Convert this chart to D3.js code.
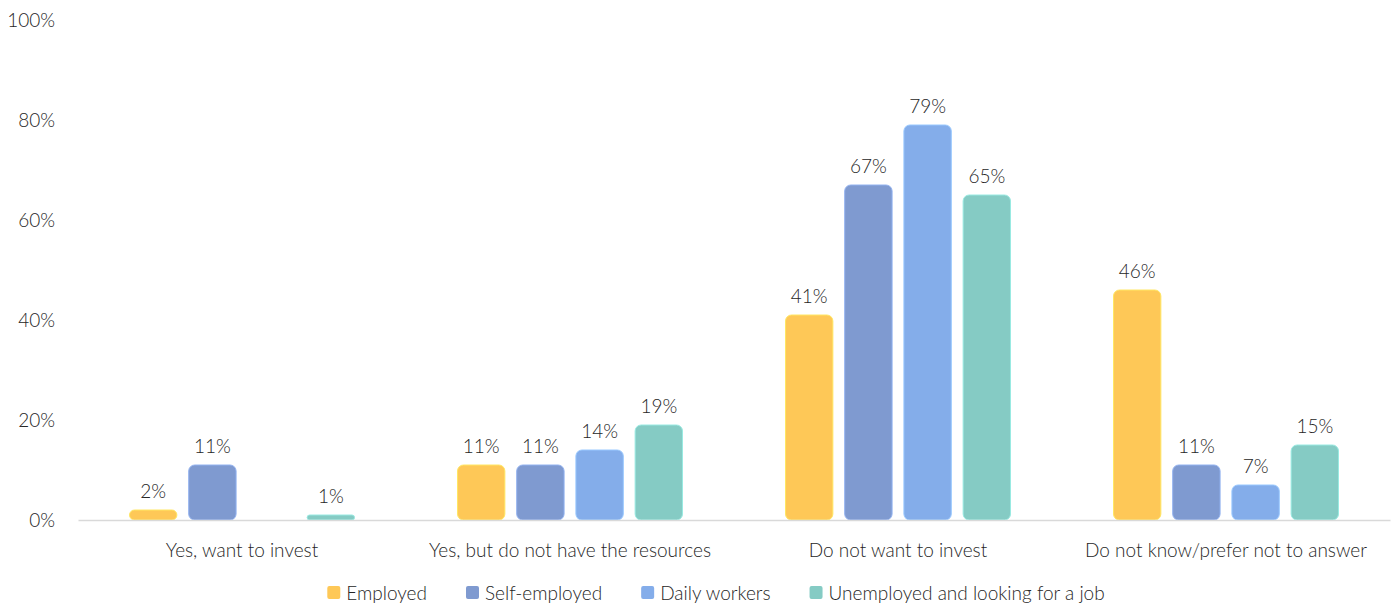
<!DOCTYPE html>
<html>
<head>
<meta charset="utf-8">
<script src="https://cdn.jsdelivr.net/npm/d3@7"></script>
<style>
  html, body { margin: 0; padding: 0; background: #fff; }
  svg { display: block; font-family: Lato, "Open Sans", sans-serif; font-weight: 300; }
</style>
</head>
<body>
<svg id="chart" width="1397" height="608"></svg>
<script>
// Answer categories along the x axis
const categories = [
  "Yes, want to invest",
  "Yes, but do not have the resources",
  "Do not want to invest",
  "Do not know/prefer not to answer"
];

// Employment groups (series)
const series = ["Employed", "Self-employed", "Daily workers", "Unemployed and looking for a job"];

// Percent of each group per category (null = no response recorded)
const employed     = [2, 11, 41, 46];
const selfEmployed = [11, 11, 67, 11];
const dailyWorkers = [null, 14, 79, 7];
const unemployed   = [1, 19, 65, 15];

const yTicks = [0, 20, 40, 60, 80, 100];

const colors = ["#FEC857", "#7F9AD0", "#84ADEA", "#85CBC4"];

const valuesBySeries = [employed, selfEmployed, dailyWorkers, unemployed];

const svg = d3.select("#chart");
const margin = { top: 20, right: 7, bottom: 88, left: 78 };
const width = 1397 - margin.left - margin.right;
const height = 608 - margin.top - margin.bottom;
const fontSize = "19px";

const g = svg.append("g").attr("transform", `translate(${margin.left},${margin.top})`);

const x0 = d3.scaleBand().domain(categories).range([0, width]).padding(0);
const groupWidth = 225;
const x1 = d3.scaleBand().domain(series)
  .range([(x0.bandwidth() - groupWidth) / 2, (x0.bandwidth() + groupWidth) / 2])
  .paddingInner(0.2).paddingOuter(0);
const y = d3.scaleLinear().domain([0, 100]).range([height, 0]);

const textColor = "#262626";

// Y axis labels (no line, no ticks)
const yAxis = g.append("g").call(
  d3.axisLeft(y).tickValues(yTicks).tickFormat(d => d + "%").tickSize(0).tickPadding(23)
);
yAxis.select(".domain").remove();
yAxis.selectAll("text")
  .attr("fill", textColor)
  .style("font-size", fontSize)
  .style("font-family", "Lato, sans-serif")
  .style("font-weight", 300);

// Bars and value labels
const data = [];
categories.forEach((c, ci) => {
  series.forEach((s, si) => {
    const v = valuesBySeries[si][ci];
    if (v !== null) data.push({ category: c, series: s, value: v, color: colors[si] });
  });
});

const bars = g.append("g");
bars.selectAll("path.bar").data(data).join("path")
  .attr("class", "bar")
  .attr("d", d => {
    const bx = x0(d.category) + x1(d.series);
    const bw = x1.bandwidth();
    const by = y(d.value);
    const bh = y(0) - by;
    const r = Math.min(6, bh / 2, bw / 2);
    const p = d3.path();
    p.moveTo(bx + r, by);
    p.lineTo(bx + bw - r, by);
    p.arcTo(bx + bw, by, bx + bw, by + r, r);
    p.lineTo(bx + bw, by + bh - r);
    p.arcTo(bx + bw, by + bh, bx + bw - r, by + bh, r);
    p.lineTo(bx + r, by + bh);
    p.arcTo(bx, by + bh, bx, by + bh - r, r);
    p.lineTo(bx, by + r);
    p.arcTo(bx, by, bx + r, by, r);
    p.closePath();
    return p.toString();
  })
  .attr("fill", d => d.color)
  .attr("stroke", d => d3.color(d.color).brighter(0.4))
  .attr("stroke-width", 1);

bars.selectAll("text.val").data(data).join("text")
  .attr("class", "val")
  .attr("x", d => x0(d.category) + x1(d.series) + x1.bandwidth() / 2)
  .attr("y", d => y(d.value) - 12)
  .attr("text-anchor", "middle")
  .attr("fill", textColor)
  .style("font-size", fontSize)
  .text(d => d.value + "%");

// Baseline and category labels
const xAxis = g.append("g").attr("transform", `translate(0,${height})`)
  .call(d3.axisBottom(x0).tickSize(0).tickPadding(24));
xAxis.select(".domain").attr("stroke", "#d9d9d9").attr("stroke-width", 1.3);
xAxis.selectAll("text")
  .attr("fill", textColor)
  .style("font-size", fontSize)
  .style("font-family", "Lato, sans-serif")
  .style("font-weight", 300);

// Legend
const legendY = 593;
const legend = svg.append("g");
const items = legend.selectAll("g").data(series).join("g");
items.append("rect")
  .attr("width", 13).attr("height", 13).attr("rx", 2)
  .attr("y", legendY - 7)
  .attr("fill", (d, i) => colors[i]);
items.append("text")
  .attr("x", 19).attr("y", legendY).attr("dy", "0.35em")
  .attr("fill", textColor)
  .style("font-size", fontSize)
  .text(d => d);

// Lay legend items out left to right, centered under the plot
let offset = 0;
const gap = 39;
const widths = [];
items.each(function () { widths.push(this.getBBox().width); });
const total = d3.sum(widths) + gap * (widths.length - 1);
const start = 716 - total / 2;
items.attr("transform", (d, i) => {
  const tx = start + offset;
  offset += widths[i] + gap;
  return `translate(${tx},0)`;
});
</script>
</body>
</html>
